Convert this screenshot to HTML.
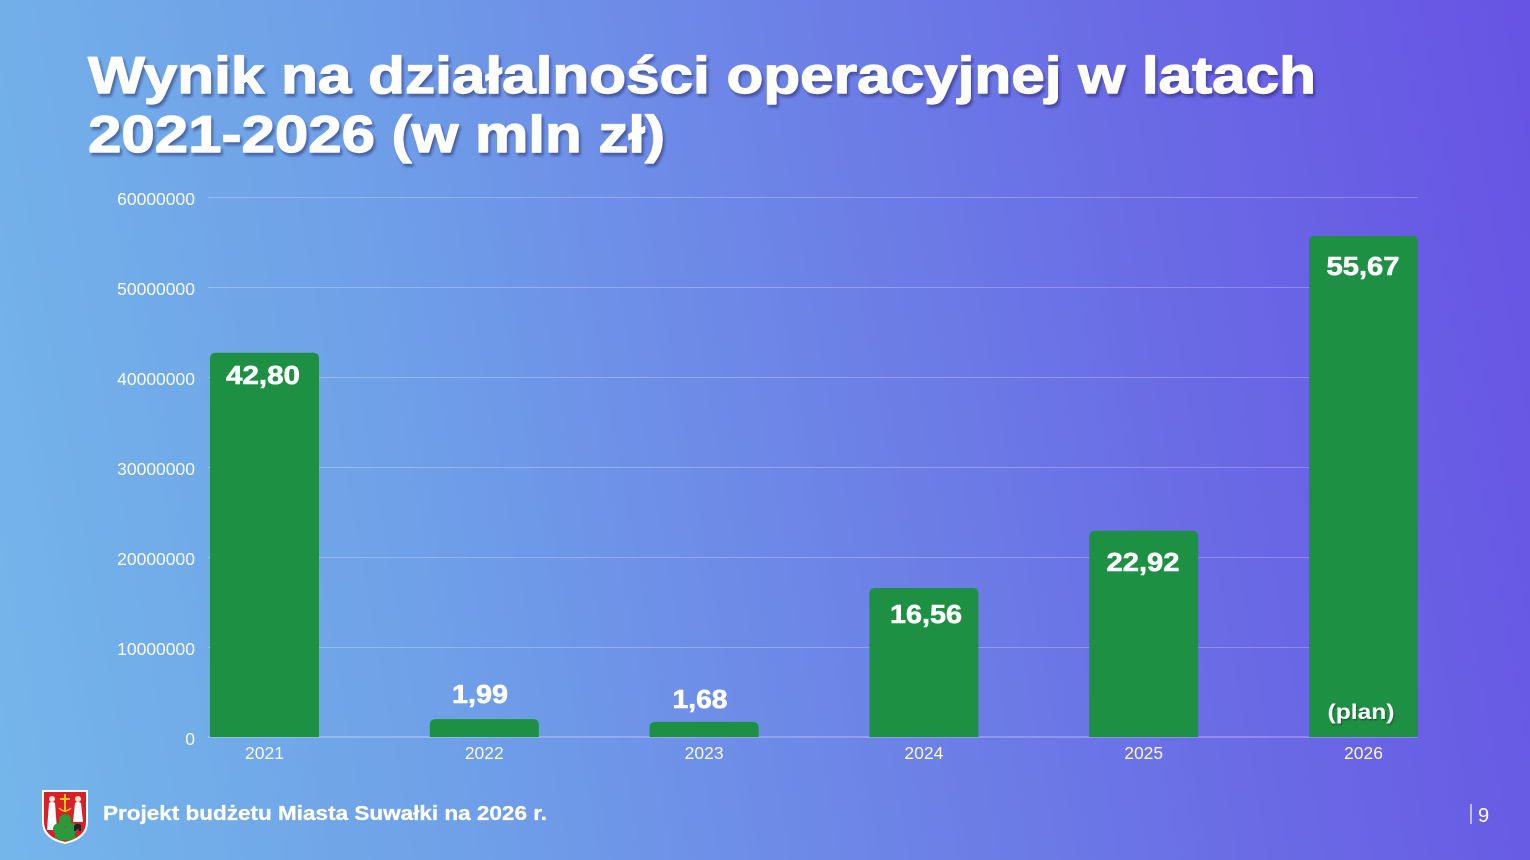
<!DOCTYPE html>
<html>
<head>
<meta charset="utf-8">
<style>
  html,body{margin:0;padding:0;}
  body{width:1530px;height:860px;overflow:hidden;
    background:linear-gradient(80deg,#74b6ea 0%,#6fa0e8 28%,#6d85e7 52%,#6a6ae5 76%,#6753e4 100%);}
  svg{position:absolute;left:0;top:0;}
</style>
</head>
<body>
<svg width="1530" height="860" viewBox="0 0 1530 860" xmlns="http://www.w3.org/2000/svg">
  <defs>
    <filter id="sh" x="-5%" y="-20%" width="110%" height="150%">
      <feDropShadow dx="2" dy="3" stdDeviation="1.2" flood-color="#1a1a50" flood-opacity="0.45"/>
    </filter>
    <filter id="sh2" x="-10%" y="-30%" width="120%" height="160%">
      <feDropShadow dx="1" dy="1.5" stdDeviation="0.8" flood-color="#000" flood-opacity="0.35"/>
    </filter>
  </defs>

  <!-- Title -->
  <g font-family="'Liberation Sans', sans-serif" font-weight="bold" fill="#ffffff" stroke="#ffffff" stroke-width="1.2" stroke-linejoin="round" filter="url(#sh)">
    <text x="88" y="93" font-size="52" textLength="1228" lengthAdjust="spacingAndGlyphs">Wynik na działalności operacyjnej w latach</text>
    <text x="88" y="152" font-size="52" textLength="577" lengthAdjust="spacingAndGlyphs">2021-2026 (w mln zł)</text>
  </g>

  <!-- Gridlines -->
  <g stroke="#ffffff" stroke-opacity="0.25" stroke-width="1">
    <line x1="208" y1="197.5" x2="1418" y2="197.5"/>
    <line x1="208" y1="287.5" x2="1418" y2="287.5"/>
    <line x1="208" y1="377.5" x2="1418" y2="377.5"/>
    <line x1="208" y1="467.5" x2="1418" y2="467.5"/>
    <line x1="208" y1="557.5" x2="1418" y2="557.5"/>
    <line x1="208" y1="647.5" x2="1418" y2="647.5"/>
  </g>
  <line x1="208" y1="737" x2="1418" y2="737" stroke="#ffffff" stroke-opacity="0.45" stroke-width="1"/>

  <!-- Y axis labels -->
  <g font-family="'Liberation Sans', sans-serif" font-size="17.5" fill="#ffffff" fill-opacity="0.95" text-anchor="end">
    <text x="195" y="205">60000000</text>
    <text x="195" y="295">50000000</text>
    <text x="195" y="385">40000000</text>
    <text x="195" y="475">30000000</text>
    <text x="195" y="565">20000000</text>
    <text x="195" y="655">10000000</text>
    <text x="195" y="745">0</text>
  </g>

  <!-- Bars -->
  <g fill="#1e9043">
    <path d="M210,737 V358.8 Q210,352.8 216,352.8 H313 Q319,352.8 319,358.8 V737 Z"/>
    <path d="M429.8,737 V725.1 Q429.8,719.1 435.8,719.1 H532.8 Q538.8,719.1 538.8,725.1 V737 Z"/>
    <path d="M649.6,737 V727.9 Q649.6,721.9 655.6,721.9 H752.6 Q758.6,721.9 758.6,727.9 V737 Z"/>
    <path d="M869.4,737 V594 Q869.4,588 875.4,588 H972.4 Q978.4,588 978.4,594 V737 Z"/>
    <path d="M1089.2,737 V536.7 Q1089.2,530.7 1095.2,530.7 H1192.2 Q1198.2,530.7 1198.2,536.7 V737 Z"/>
    <path d="M1309,737 V242 Q1309,236 1315,236 H1412 Q1418,236 1418,242 V737 Z"/>
  </g>

  <!-- Data labels -->
  <g font-family="'Liberation Sans', sans-serif" font-weight="bold" fill="#ffffff" stroke="#ffffff" stroke-width="0.6" font-size="26" text-anchor="middle">
    <text x="263" y="384" textLength="74" lengthAdjust="spacingAndGlyphs">42,80</text>
    <text x="480" y="703" textLength="56" lengthAdjust="spacingAndGlyphs">1,99</text>
    <text x="700" y="708" textLength="55" lengthAdjust="spacingAndGlyphs">1,68</text>
    <text x="926" y="623" textLength="72" lengthAdjust="spacingAndGlyphs">16,56</text>
    <text x="1143" y="571" textLength="73" lengthAdjust="spacingAndGlyphs">22,92</text>
    <text x="1363" y="275" textLength="73" lengthAdjust="spacingAndGlyphs">55,67</text>
  </g>
  <text x="1361" y="719" font-family="'Liberation Sans', sans-serif" font-weight="bold" font-size="21" fill="#ffffff" text-anchor="middle" textLength="67" lengthAdjust="spacingAndGlyphs" filter="url(#sh2)">(plan)</text>

  <!-- X axis labels -->
  <g font-family="'Liberation Sans', sans-serif" font-size="17.5" fill="#ffffff" fill-opacity="0.95" text-anchor="middle">
    <text x="264.5" y="759">2021</text>
    <text x="484.3" y="759">2022</text>
    <text x="704.1" y="759">2023</text>
    <text x="923.9" y="759">2024</text>
    <text x="1143.7" y="759">2025</text>
    <text x="1363.5" y="759">2026</text>
  </g>

  <!-- Logo (coat of arms) -->
  <g>
    <path d="M42,790 H88 V822 Q88,839 65,844 Q42,839 42,822 Z" fill="#ffffff"/>
    <path d="M44,792 H86 V822 Q86,837 65,842 Q44,837 44,822 Z" fill="#d8202a"/>
    <ellipse cx="52" cy="799" rx="3" ry="3" fill="#f4e9c8"/>
    <path d="M47,830 L49,803 Q52,801 55,803 L57,830 Z" fill="#ffffff"/>
    <ellipse cx="78" cy="799" rx="3" ry="3" fill="#f4e9c8"/>
    <path d="M73,822 L75,803 Q78,801 81,803 L83,822 Z" fill="#ffffff"/>
    <rect x="64" y="794" width="2" height="18" fill="#f2c617"/>
    <rect x="60" y="798" width="10" height="2" fill="#f2c617"/>
    <path d="M59,808 Q65,814 71,808" stroke="#f2c617" stroke-width="1.5" fill="none"/>
    <circle cx="65" cy="820" r="6" fill="#2b9a3a"/>
    <circle cx="59" cy="829" r="6" fill="#2b9a3a"/>
    <circle cx="71" cy="829" r="6" fill="#2b9a3a"/>
    <path d="M55,838 Q65,843 75,838 L75,830 L55,830 Z" fill="#2b9a3a"/>
    <path d="M74,826 Q77,822 81,825 L81,831 L79,831 L78,828 L76,831 L74,831 Z" fill="#222"/>
  </g>

  <!-- Footer text -->
  <text x="103" y="820" font-family="'Liberation Sans', sans-serif" font-weight="bold" font-size="20" fill="#ffffff" stroke="#ffffff" stroke-width="0.3" textLength="444" lengthAdjust="spacingAndGlyphs">Projekt budżetu Miasta Suwałki na 2026 r.</text>

  <!-- Page number -->
  <line x1="1471" y1="804" x2="1471" y2="824" stroke="#ffffff" stroke-width="1.2"/>
  <text x="1478" y="822" font-family="'Liberation Sans', sans-serif" font-size="20" fill="#ffffff">9</text>
</svg>
</body>
</html>
